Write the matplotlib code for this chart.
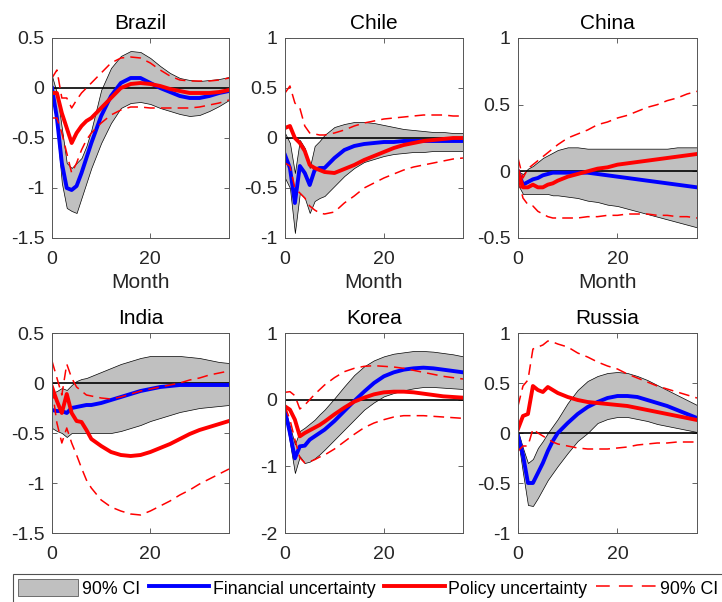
import numpy as np
import matplotlib
matplotlib.use("Agg")
import matplotlib.pyplot as plt
from matplotlib.patches import Patch
from matplotlib.lines import Line2D

plt.rcParams['font.family'] = ['Liberation Sans', 'DejaVu Sans']
plt.rcParams['axes.unicode_minus'] = False

months = [0, 1, 2, 3, 4, 5, 6, 7, 8, 10, 12, 14, 16, 18, 20, 22, 24, 26, 28, 30, 32, 34, 36]

countries = ['Brazil', 'Chile', 'China', 'India', 'Korea', 'Russia']

# financial uncertainty response and its 90% band
fin = {
    'Brazil': [0, -0.3, -0.75, -1.0, -1.02, -0.98, -0.85, -0.7, -0.55, -0.28, -0.08, 0.05, 0.1, 0.1, 0.05, 0.0, -0.04, -0.08, -0.1, -0.1, -0.08, -0.05, -0.03],
    'Chile': [-0.17, -0.3, -0.65, -0.28, -0.35, -0.47, -0.32, -0.3, -0.3, -0.2, -0.12, -0.08, -0.06, -0.05, -0.04, -0.04, -0.03, -0.03, -0.03, -0.03, -0.03, -0.03, -0.03],
    'China': [0.0, -0.1, -0.08, -0.06, -0.05, -0.03, -0.02, -0.01, -0.01, -0.01, -0.01, -0.01, -0.02, -0.03, -0.04, -0.05, -0.06, -0.07, -0.08, -0.09, -0.1, -0.11, -0.12],
    'India': [-0.27, -0.28, -0.28, -0.3, -0.25, -0.24, -0.23, -0.22, -0.22, -0.2, -0.17, -0.14, -0.11, -0.08, -0.06, -0.04, -0.03, -0.02, -0.02, -0.02, -0.02, -0.02, -0.02],
    'Korea': [-0.17, -0.5, -0.88, -0.7, -0.69, -0.6, -0.55, -0.5, -0.45, -0.32, -0.17, -0.02, 0.12, 0.25, 0.35, 0.41, 0.45, 0.47, 0.48, 0.47, 0.45, 0.43, 0.41],
    'Russia': [-0.03, -0.22, -0.5, -0.5, -0.4, -0.3, -0.18, -0.08, 0.0, 0.1, 0.19, 0.26, 0.31, 0.35, 0.37, 0.37, 0.36, 0.33, 0.3, 0.27, 0.23, 0.19, 0.15],
}
band_hi = {
    'Brazil': [0.12, -0.05, -0.4, -0.75, -0.8, -0.75, -0.7, -0.58, -0.42, -0.02, 0.2, 0.32, 0.37, 0.36, 0.3, 0.22, 0.15, 0.1, 0.08, 0.07, 0.08, 0.09, 0.11],
    'Chile': [0.05, -0.05, -0.35, -0.02, -0.1, -0.3, -0.08, -0.03, 0.03, 0.11, 0.14, 0.16, 0.16, 0.15, 0.13, 0.11, 0.09, 0.08, 0.07, 0.06, 0.06, 0.05, 0.05],
    'China': [0.0, -0.02, 0.02, 0.04, 0.07, 0.1, 0.12, 0.14, 0.16, 0.18, 0.18, 0.17, 0.17, 0.17, 0.17, 0.17, 0.17, 0.17, 0.17, 0.17, 0.18, 0.18, 0.18],
    'India': [-0.1, -0.08, -0.05, -0.07, -0.02, 0.02, 0.04, 0.05, 0.07, 0.11, 0.15, 0.19, 0.22, 0.25, 0.27, 0.27, 0.27, 0.27, 0.26, 0.25, 0.23, 0.21, 0.2],
    'Korea': [-0.15, -0.4, -0.67, -0.47, -0.42, -0.36, -0.3, -0.22, -0.15, 0.02, 0.2, 0.37, 0.5, 0.59, 0.65, 0.69, 0.71, 0.73, 0.73, 0.72, 0.7, 0.68, 0.65],
    'Russia': [0.02, -0.15, -0.3, -0.26, -0.15, -0.08, 0.0, 0.07, 0.14, 0.3, 0.43, 0.52, 0.57, 0.6, 0.61, 0.6, 0.57, 0.53, 0.48, 0.43, 0.38, 0.33, 0.28],
}
band_lo = {
    'Brazil': [-0.05, -0.4, -0.95, -1.2, -1.23, -1.25, -1.1, -0.95, -0.8, -0.55, -0.35, -0.2, -0.15, -0.14, -0.16, -0.2, -0.23, -0.26, -0.28, -0.27, -0.23, -0.18, -0.12],
    'Chile': [-0.4, -0.5, -0.95, -0.55, -0.6, -0.75, -0.63, -0.6, -0.58, -0.48, -0.38, -0.3, -0.24, -0.21, -0.18, -0.16, -0.15, -0.14, -0.14, -0.13, -0.13, -0.13, -0.13],
    'China': [-0.1, -0.17, -0.17, -0.17, -0.17, -0.17, -0.17, -0.18, -0.18, -0.19, -0.2, -0.22, -0.23, -0.25, -0.26, -0.28, -0.3, -0.32, -0.34, -0.36, -0.38, -0.4, -0.42],
    'India': [-0.45, -0.48, -0.5, -0.54, -0.5, -0.5, -0.5, -0.5, -0.5, -0.5, -0.5, -0.48, -0.45, -0.42, -0.38, -0.35, -0.32, -0.29, -0.27, -0.25, -0.24, -0.23, -0.22],
    'Korea': [-0.2, -0.65, -1.1, -0.85, -0.95, -0.93, -0.88, -0.82, -0.75, -0.6, -0.45, -0.3, -0.15, -0.04, 0.05, 0.1, 0.14, 0.17, 0.19, 0.19, 0.18, 0.17, 0.16],
    'Russia': [-0.06, -0.4, -0.72, -0.73, -0.65, -0.56, -0.47, -0.4, -0.33, -0.2, -0.08, 0.0, 0.1, 0.14, 0.16, 0.16, 0.14, 0.12, 0.09, 0.07, 0.05, 0.03, 0.01],
}

# policy uncertainty response and its 90% band (dashed)
pol = {
    'Brazil': [-0.05, -0.05, -0.25, -0.4, -0.55, -0.45, -0.38, -0.33, -0.3, -0.2, -0.1, 0.0, 0.04, 0.05, 0.04, 0.02, -0.01, -0.03, -0.05, -0.05, -0.05, -0.04, -0.02],
    'Chile': [0.1, 0.12, 0.0, -0.05, -0.13, -0.27, -0.3, -0.32, -0.34, -0.35, -0.31, -0.27, -0.22, -0.18, -0.14, -0.1, -0.07, -0.05, -0.03, -0.02, -0.01, 0.0, 0.0],
    'China': [0.0, -0.12, -0.12, -0.1, -0.12, -0.12, -0.1, -0.09, -0.07, -0.04, -0.02, 0.0, 0.02, 0.03, 0.05, 0.06, 0.07, 0.08, 0.09, 0.1, 0.11, 0.12, 0.13],
    'India': [-0.04, -0.18, -0.3, -0.11, -0.3, -0.38, -0.39, -0.47, -0.56, -0.63, -0.69, -0.72, -0.73, -0.72, -0.69, -0.65, -0.61, -0.56, -0.51, -0.47, -0.44, -0.41, -0.38],
    'Korea': [-0.1, -0.15, -0.3, -0.55, -0.5, -0.46, -0.42, -0.38, -0.33, -0.22, -0.12, -0.03, 0.03, 0.08, 0.11, 0.12, 0.12, 0.11, 0.09, 0.07, 0.05, 0.04, 0.03],
    'Russia': [0.04, 0.17, 0.19, 0.47, 0.43, 0.41, 0.46, 0.43, 0.4, 0.36, 0.33, 0.31, 0.3, 0.29, 0.28, 0.27, 0.25, 0.23, 0.21, 0.19, 0.17, 0.15, 0.13],
}
pol_hi = {
    'Brazil': [0.1, 0.18, -0.1, -0.1, -0.2, -0.12, -0.05, 0.0, 0.05, 0.15, 0.25, 0.3, 0.31, 0.3, 0.25, 0.18, 0.12, 0.08, 0.07, 0.07, 0.07, 0.08, 0.1],
    'Chile': [0.45, 0.52, 0.35, 0.3, 0.12, 0.05, 0.04, 0.03, 0.03, 0.05, 0.08, 0.12, 0.15, 0.17, 0.19, 0.2, 0.21, 0.22, 0.23, 0.23, 0.23, 0.22, 0.22],
    'China': [0.1, -0.05, 0.02, 0.05, 0.08, 0.11, 0.14, 0.17, 0.2, 0.25, 0.28, 0.31, 0.35, 0.37, 0.4, 0.42, 0.45, 0.48, 0.5, 0.53, 0.55, 0.58, 0.6],
    'India': [0.22, 0.05, -0.12, 0.19, 0.05, -0.04, -0.08, -0.12, -0.13, -0.15, -0.16, -0.14, -0.11, -0.08, -0.06, -0.04, -0.02, 0.0, 0.03, 0.05, 0.08, 0.1, 0.12],
    'Korea': [0.11, 0.12, 0.06, -0.14, -0.08, 0.0, 0.08, 0.15, 0.22, 0.33, 0.42, 0.47, 0.5, 0.51, 0.5, 0.49, 0.47, 0.44, 0.41, 0.38, 0.35, 0.33, 0.31],
    'Russia': [0.27, 0.47, 0.53, 0.84, 0.86, 0.88, 0.92, 0.91, 0.89, 0.86, 0.8, 0.76, 0.71, 0.67, 0.64, 0.59, 0.55, 0.51, 0.47, 0.44, 0.41, 0.38, 0.35],
}
pol_lo = {
    'Brazil': [-0.3, -0.3, -0.45, -0.65, -0.85, -0.75, -0.62, -0.52, -0.45, -0.35, -0.27, -0.22, -0.19, -0.19, -0.2, -0.2, -0.2, -0.2, -0.2, -0.19, -0.17, -0.15, -0.12],
    'Chile': [-0.25, -0.28, -0.5, -0.55, -0.6, -0.68, -0.72, -0.75, -0.76, -0.74, -0.65, -0.58, -0.5, -0.45, -0.4, -0.36, -0.32, -0.29, -0.27, -0.25, -0.23, -0.21, -0.2],
    'China': [-0.05, -0.2, -0.25, -0.26, -0.3, -0.32, -0.34, -0.35, -0.35, -0.35, -0.35, -0.34, -0.34, -0.33, -0.33, -0.32, -0.32, -0.32, -0.33, -0.33, -0.34, -0.34, -0.35],
    'India': [-0.05, -0.4, -0.6, -0.45, -0.6, -0.72, -0.85, -0.97, -1.05, -1.17, -1.24, -1.28, -1.31, -1.32, -1.28, -1.23, -1.18, -1.12, -1.07, -1.01, -0.96, -0.91, -0.86],
    'Korea': [-0.1, -0.3, -0.6, -0.87, -0.95, -0.93, -0.9, -0.86, -0.83, -0.74, -0.63, -0.52, -0.42, -0.35, -0.3, -0.26, -0.24, -0.24, -0.24, -0.25, -0.26, -0.27, -0.28],
    'Russia': [-0.18, -0.13, -0.13, 0.04, 0.0, -0.03, -0.06, -0.09, -0.11, -0.13, -0.15, -0.16, -0.16, -0.16, -0.15, -0.14, -0.12, -0.11, -0.1, -0.1, -0.09, -0.09, -0.09],
}

ylims = {'Brazil': (-1.5, 0.5), 'Chile': (-1, 1), 'China': (-0.5, 1),
         'India': (-1.5, 0.5), 'Korea': (-2, 1), 'Russia': (-1, 1)}
ysteps = {'Brazil': 0.5, 'Chile': 0.5, 'China': 0.5,
          'India': 0.5, 'Korea': 1, 'Russia': 0.5}

fig = plt.figure(figsize=(7.22, 6.02), dpi=100)

W, H = 722.0, 602.0
lefts = [52, 285, 518]
widths = [177, 178, 179]
tops = [38, 333]
ax_h = 200

for i, c in enumerate(countries):
    row, col = divmod(i, 3)
    ax = fig.add_axes([lefts[col] / W, 1 - (tops[row] + ax_h) / H, widths[col] / W, ax_h / H])
    ax.fill_between(months, band_lo[c], band_hi[c], facecolor='#c0c0c0',
                    edgecolor='black', linewidth=0.5)
    ax.axhline(0, color='black', linewidth=1.2)
    ax.plot(months, fin[c], color='blue', linewidth=2.8)
    ax.plot(months, pol[c], color='red', linewidth=2.8)
    ax.plot(months, pol_hi[c], color='red', linewidth=1.1, dashes=(7, 4))
    ax.plot(months, pol_lo[c], color='red', linewidth=1.1, dashes=(7, 4))
    lo, hi = ylims[c]
    ax.set_xlim(0, 36)
    ax.set_ylim(lo, hi)
    ax.set_xticks([0, 20])
    ax.set_yticks(np.arange(lo, hi + 0.001, ysteps[c]))
    ax.yaxis.set_major_formatter(plt.FuncFormatter(lambda v, p: '%g' % v))
    ax.tick_params(direction='in', top=True, right=True, length=3.5, width=0.5,
                   labelsize=14, colors='#262626')
    ax.tick_params(axis='x', pad=9.5)
    ax.tick_params(axis='y', pad=5.5)
    for s in ax.spines.values():
        s.set_color('#555555')
        s.set_linewidth(0.7)
    ax.set_title(c, fontsize=15, color='black', pad=6.5)
    if row == 0:
        ax.set_xlabel('Month', fontsize=15, color='#262626', labelpad=3.5)

handles = [
    Patch(facecolor='#c0c0c0', edgecolor='#404040', linewidth=0.5),
    Line2D([], [], color='blue', linewidth=2.8),
    Line2D([], [], color='red', linewidth=2.8),
    Line2D([], [], color='red', linewidth=1.1, dashes=(9, 6)),
]
labels = ['90% CI', 'Financial uncertainty', 'Policy uncertainty', '90% CI']
leg = fig.legend(handles, labels, loc='lower left', bbox_to_anchor=(12.5 / W, -1 / H),
                 ncol=4, fontsize=12.8, frameon=True, fancybox=False,
                 handlelength=3.4, handleheight=1.1, handletextpad=0.2,
                 columnspacing=0.5, borderpad=0.3, borderaxespad=0)
leg.get_frame().set_edgecolor('#262626')
leg.get_frame().set_linewidth(0.8)

fig.savefig('out.png', dpi=100)
